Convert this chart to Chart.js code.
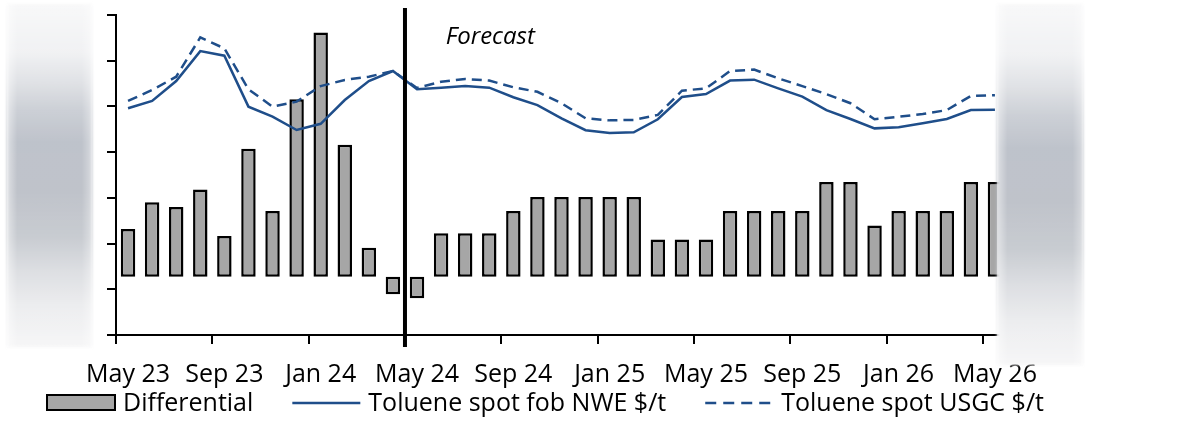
<!DOCTYPE html>
<html>
<head>
<meta charset="utf-8">
<script src="https://cdn.jsdelivr.net/npm/chart.js@4.4.1/dist/chart.umd.min.js"></script>
<style>
  html, body { margin: 0; padding: 0; background: #ffffff; }
  #wrap { width: 1178px; height: 427px; position: relative; }
</style>
</head>
<body>
<div id="wrap"><canvas id="chart" width="1178" height="427"></canvas></div>
<script>
// Monthly categories, May 2023 to May 2026
const months = [
  'May 23','Jun 23','Jul 23','Aug 23','Sep 23','Oct 23','Nov 23','Dec 23',
  'Jan 24','Feb 24','Mar 24','Apr 24','May 24','Jun 24','Jul 24','Aug 24',
  'Sep 24','Oct 24','Nov 24','Dec 24','Jan 25','Feb 25','Mar 25','Apr 25',
  'May 25','Jun 25','Jul 25','Aug 25','Sep 25','Oct 25','Nov 25','Dec 25',
  'Jan 26','Feb 26','Mar 26','Apr 26','May 26'
];

// Differential, $/t (right-hand scale)
const differential = [
  82, 128, 120, 150, 70, 220, 113, 305,
  420, 227, 50, -30, -37, 75, 75, 75,
  113, 137, 137, 137, 137, 137, 64, 64,
  64, 113, 113, 113, 113, 163, 163, 88,
  113, 113, 113, 163, 163
];

// Toluene spot fob NWE, $/t
const tolueneNWE = [
  992, 1024, 1111, 1242, 1222, 999, 955, 897,
  924, 1028, 1111, 1155, 1075, 1082, 1089, 1082,
  1040, 1006, 948, 896, 884, 887, 944, 1041,
  1054, 1113, 1117, 1079, 1043, 984, 945, 904,
  909, 926, 945, 984, 986
];

// Toluene spot USGC, $/t
const tolueneUSGC = [
  1024, 1072, 1130, 1302, 1254, 1075, 999, 1021,
  1089, 1116, 1130, 1155, 1081, 1108, 1120, 1113,
  1084, 1064, 1014, 948, 939, 941, 963, 1069,
  1079, 1155, 1161, 1123, 1089, 1054, 1014, 944,
  955, 967, 984, 1046, 1049
];

// First forecast month and label placement
const forecastStart = 'May 24';
const forecastLabelAt = 'Aug 24';
const forecastText = 'Forecast';

const FONT = "'Open Sans', 'Noto Sans', sans-serif";
const BLUE = '#1f4e8a';
const BAR_FILL = '#a6a6a6';

// Vertical divider between history and forecast, with its caption
const forecastPlugin = {
  id: 'forecastDivider',
  afterDatasetsDraw(chart) {
    const { ctx, scales: { x } } = chart;
    const idx = months.indexOf(forecastStart);
    const px = (x.getPixelForValue(idx - 1) + x.getPixelForValue(idx)) / 2;
    ctx.save();
    ctx.strokeStyle = '#000';
    ctx.lineWidth = 4;
    ctx.beginPath();
    ctx.moveTo(px, chart.chartArea.top - 7);
    ctx.lineTo(px, chart.chartArea.bottom + 12);
    ctx.stroke();
    const lx = x.getPixelForValue(months.indexOf(forecastLabelAt));
    ctx.font = 'italic 24px ' + FONT;
    ctx.fillStyle = '#000';
    ctx.textAlign = 'center';
    ctx.textBaseline = 'middle';
    ctx.fillText(forecastText, lx + 1, chart.chartArea.top + 22);
    ctx.restore();
  }
};

// Legend row under the axis labels
const legendPlugin = {
  id: 'bottomLegend',
  afterDraw(chart) {
    const { ctx } = chart;
    const y = 403;
    const sample = 68, gap = 8, itemGap = 39;
    ctx.save();
    ctx.font = '25px ' + FONT;
    ctx.textBaseline = 'middle';
    ctx.textAlign = 'left';
    let cx = 47;
    chart.data.datasets.forEach(ds => {
      if (ds.type === 'bar') {
        ctx.fillStyle = ds.backgroundColor;
        ctx.fillRect(cx, y - 8, sample, 15);
        ctx.strokeStyle = '#000';
        ctx.lineWidth = 2;
        ctx.strokeRect(cx, y - 8, sample, 15);
      } else {
        ctx.strokeStyle = ds.borderColor;
        ctx.lineWidth = 2.5;
        ctx.setLineDash(ds.borderDash ? [11, 7] : []);
        ctx.beginPath();
        ctx.moveTo(cx, y);
        ctx.lineTo(cx + sample, y);
        ctx.stroke();
        ctx.setLineDash([]);
      }
      cx += sample + gap;
      ctx.fillStyle = '#000';
      ctx.fillText(ds.label, cx, y + 1);
      cx += ctx.measureText(ds.label).width + itemGap;
    });
    ctx.restore();
  }
};

// Soft grey side panels
const panelPlugin = {
  id: 'sidePanels',
  afterDraw(chart) {
    const { ctx } = chart;
    const panels = [
      { x: 7, y: 4, w: 85, h: 343 },
      { x: 997, y: 4, w: 86, h: 361 }
    ];
    panels.forEach(p => {
      ctx.save();
      const g = ctx.createLinearGradient(0, p.y, 0, p.y + p.h);
      g.addColorStop(0.00, '#f7f7f8');
      g.addColorStop(0.14, '#eff0f2');
      g.addColorStop(0.23, '#dcdee2');
      g.addColorStop(0.31, '#c6cad1');
      g.addColorStop(0.40, '#b7bcc5');
      g.addColorStop(0.55, '#b8bcc4');
      g.addColorStop(0.68, '#c2c6cc');
      g.addColorStop(0.78, '#d9dbdf');
      g.addColorStop(0.88, '#eaebed');
      g.addColorStop(1.00, '#f5f5f6');
      ctx.filter = 'blur(1.5px)';
      ctx.fillStyle = g;
      ctx.fillRect(p.x, p.y, p.w, p.h);
      ctx.filter = 'none';
      const h = ctx.createLinearGradient(p.x, 0, p.x + p.w, 0);
      h.addColorStop(0.0, 'rgba(255,255,255,0.55)');
      h.addColorStop(0.12, 'rgba(255,255,255,0.1)');
      h.addColorStop(0.88, 'rgba(255,255,255,0.1)');
      h.addColorStop(1.0, 'rgba(255,255,255,0.45)');
      ctx.fillStyle = h;
      ctx.fillRect(p.x, p.y, p.w, p.h);
      ctx.restore();
    });
  }
};

new Chart(document.getElementById('chart'), {
  data: {
    labels: months,
    datasets: [
      {
        type: 'bar',
        label: 'Differential',
        data: differential,
        yAxisID: 'yDiff',
        backgroundColor: BAR_FILL,
        borderColor: '#000',
        borderWidth: 2.5,
        borderSkipped: false,
        barPercentage: 0.6,
        categoryPercentage: 1.0,
        order: 2
      },
      {
        type: 'line',
        label: 'Toluene spot fob NWE $/t',
        data: tolueneNWE,
        yAxisID: 'y',
        borderColor: BLUE,
        borderWidth: 2.5,
        pointRadius: 0,
        tension: 0,
        fill: false,
        order: 1
      },
      {
        type: 'line',
        label: 'Toluene spot USGC $/t',
        data: tolueneUSGC,
        yAxisID: 'y',
        borderColor: BLUE,
        borderWidth: 2.5,
        borderDash: [10, 6],
        pointRadius: 0,
        tension: 0,
        fill: false,
        order: 0
      }
    ]
  },
  options: {
    responsive: false,
    animation: false,
    devicePixelRatio: 1,
    layout: { padding: { top: 15, right: 171, left: 0, bottom: 0 } },
    plugins: {
      legend: { display: false },
      tooltip: { enabled: false }
    },
    scales: {
      x: {
        type: 'category',
        offset: true,
        grid: {
          offset: true,
          drawOnChartArea: false,
          drawTicks: true,
          tickLength: 9,
          lineWidth: 2,
          color: c => (c.index % 4 === 0 ? '#000' : 'rgba(0,0,0,0)')
        },
        border: { display: true, color: '#000', width: 2 },
        ticks: {
          autoSkip: false,
          maxRotation: 0,
          minRotation: 0,
          padding: 16,
          color: '#000',
          font: { family: FONT, size: 25 },
          callback: (v, i) => (i % 4 === 0 ? months[i] : '')
        },
        afterFit: s => { s.height = 92; }
      },
      y: {
        position: 'left',
        min: 0,
        max: 1400,
        ticks: { display: false, stepSize: 200 },
        grid: {
          drawOnChartArea: false,
          drawTicks: true,
          tickLength: 9,
          lineWidth: 2,
          color: '#000'
        },
        border: { display: true, color: '#000', width: 2 },
        afterFit: s => { s.width = 116; }
      },
      yDiff: {
        position: 'right',
        display: false,
        min: -100,
        max: 450
      }
    }
  },
  plugins: [forecastPlugin, legendPlugin, panelPlugin]
});
</script>
</body>
</html>
